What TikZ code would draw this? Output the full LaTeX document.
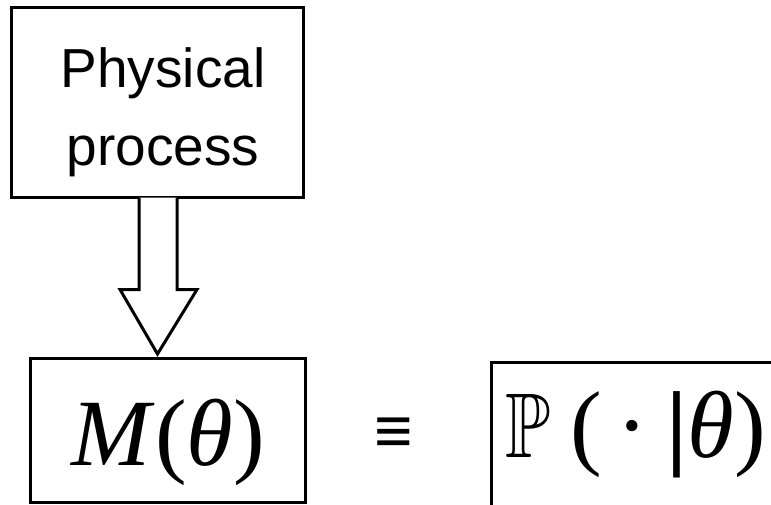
\documentclass[tikz,border=0pt]{standalone}
\usepackage{amssymb}
\usepackage{graphicx}
\usepackage{fontspec}
\setmainfont{Liberation Serif}
\newfontfamily\helv{Liberation Sans}
\usetikzlibrary{calc}
\tikzset{
  frame/.style={draw=black, line width=3pt, inner sep=0pt, outer sep=0pt},
  blockarrow/.style={draw=black, fill=white, line width=3pt, line join=miter},
  sanslabel/.style={font=\helv\fontsize{55}{78}\selectfont, align=center, inner sep=0pt},
  mathlabel/.style={font=\fontsize{95}{100}\selectfont, inner sep=0pt}
}
\begin{document}
\begin{tikzpicture}[x=1pt,y=-1pt]
\useasboundingbox (0,0) rectangle (771,504);
\clip (0,0) rectangle (771,504);
% boxes
\node[frame, minimum width=292pt, minimum height=190pt] (proc) at (157.5,102.5) {};
\node[frame, minimum width=275pt, minimum height=144pt] (mth) at (167.5,430) {};
\node[frame, minimum width=360pt, minimum height=200pt] (prob) at (671,462) {};
% texts
\node[sanslabel, anchor=north] (ptxt) at (163,47) {Physical\\process};
\node[mathlabel, anchor=base] (mtxt) at (168.5,465) {\textit{M}(\textit{θ}\/)};
\node[font=\helv\fontsize{66}{68}\selectfont, inner sep=0pt] (eqv) at (393.5,436) {≡};
\node[mathlabel, anchor=base west] (ptext) at (505,457)
  {\scalebox{7.4}[9.2]{\fontsize{10}{12}\selectfont$\mathbb{P}$}\hspace{20pt}(\hspace{14pt}·\hspace{19pt}\textbf{|}\textit{θ}\/)};
% block arrow from process box to model box
\coordinate (s) at (proc.south);
\coordinate (t) at (mth.north -| proc.south);
\draw[blockarrow]
  ($(s)+(-18.5,0)$) -- ($(s)+(-18.5,92)$) -- ($(s)+(-37.5,92)$) -- ($(t)+(0,-4)$)
  -- ($(s)+(39.5,92)$) -- ($(s)+(19.5,92)$) -- ($(s)+(19.5,0)$);
\end{tikzpicture}
\end{document}
